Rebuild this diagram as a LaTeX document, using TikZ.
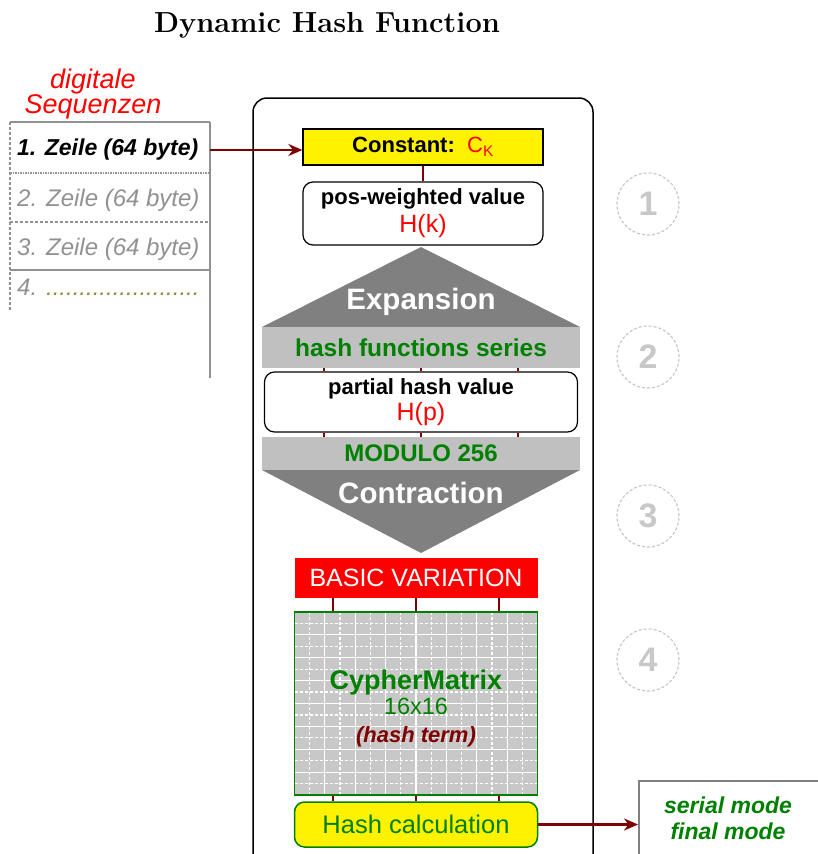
\documentclass[tikz,border=0pt]{standalone}
\usepackage{fontspec}
\setsansfont{Liberation Sans}
\usetikzlibrary{calc,arrows.meta}

\definecolor{darkred}{RGB}{128,0,0}
\definecolor{hashgreen}{RGB}{0,128,0}
\definecolor{midgrey}{RGB}{128,128,128}
\definecolor{bargrey}{RGB}{192,192,192}
\definecolor{cellgrey}{RGB}{200,200,200}
\definecolor{stepgrey}{RGB}{200,200,200}
\definecolor{rowgrey}{RGB}{145,145,145}
\definecolor{dotolive}{RGB}{150,140,60}

\begin{document}
\begin{tikzpicture}[x=1pt,y=-1pt,
    every node/.style={inner sep=0pt},
    sans/.style={execute at begin node={\sffamily\fontsize{#1}{#1}\selectfont}},
    constbox/.style={draw,fill=yellow,line width=1.2pt,minimum width=240,minimum height=36},
    valuebox/.style={draw,fill=white,rounded corners=10,line width=1.2pt,align=center},
    barbox/.style={fill=bargrey,minimum width=318,text=hashgreen},
    varbox/.style={fill=red,minimum width=243,minimum height=40,text=white},
    cellbox/.style={draw=hashgreen,fill=cellgrey,line width=1.5pt,minimum width=243,minimum height=183},
    calcbox/.style={draw=hashgreen,fill=yellow,rounded corners=10,line width=1.5pt,minimum width=243,minimum height=45,text=hashgreen},
    flow/.style={darkred,line width=2.5pt,-{Stealth[length=14pt,width=12pt]}},
    link/.style={darkred,line width=2pt},
    stepmark/.style={circle,draw=stepgrey,densely dashed,line width=1.2pt,minimum size=62,text=stepgrey},
    rowline/.style={rowgrey,line width=1.5pt}]
  \useasboundingbox (0,0) rectangle (817,854);

  % title
  \node[font={\bfseries\fontsize{29}{34}\selectfont}] (title) at (327,25) {Dynamic Hash Function};

  % digital sequences on the left
  \node[font={\sffamily\itshape\fontsize{27}{23}\selectfont},text=red,align=center] (seqhead) at (93,94) {digitale\\Sequenzen};
  \draw[rowline] (10,122) -- (210,122);
  \draw[rowline,densely dotted] (10,173) -- (210,173);
  \draw[rowline,densely dashed] (10,222) -- (210,222);
  \draw[rowline] (10,270) -- (210,270);
  \draw[rowline] (210,122) -- (210,378);
  \draw[rowline,densely dashed] (10,122) -- (10,310);
  \node[sans=23,font=\bfseries\itshape,anchor=west] (row1) at (17,150) {1. Zeile (64 byte)};
  \node[sans=24,font=\itshape,text=rowgrey,anchor=west] (row2) at (17,200) {2. Zeile (64 byte)};
  \node[sans=24,font=\itshape,text=rowgrey,anchor=west] (row3) at (17,249) {3. Zeile (64 byte)};
  \node[sans=24,font=\itshape,text=rowgrey,anchor=west] (row4) at (17,287) {4. \textcolor{dotolive}{.......................}};
  \coordinate (rowedge) at (210,150);

  % frame of the hash function
  \draw[line width=1.5pt,rounded corners=14] (253,870) -- (253,98) -- (593,98) -- (593,870);

  % step 1
  \node[constbox,sans=22] (const) at (423,147) {\bfseries Constant:\ \ \textcolor{red}{\mdseries C\textsubscript{K}}};
  \node[valuebox,minimum width=240,minimum height=63,sans=22] (posval) at (423,213.5)
    {\bfseries pos-weighted value\\[4pt]\textcolor{red}{\fontsize{25}{25}\selectfont H(k)}};
  \draw[link] (const) -- (posval);
  \draw[fill=midgrey,draw=none] (421,247) -- (580,327) -- (262,327) -- cycle;
  \node[sans=29.5,font=\bfseries,text=white] (expand) at (421,302) {Expansion};

  % step 2
  \node[barbox,minimum height=41,sans=24.5,font=\bfseries] (series) at (421,347.5) {hash functions series};
  \node[valuebox,minimum width=313,minimum height=60,sans=22] (partial) at (421,402)
    {\bfseries partial hash value\\[3pt]\textcolor{red}{\mdseries\fontsize{25}{25}\selectfont H(p)}};
  \node[barbox,minimum height=33,sans=24,font=\bfseries] (modulo) at (421,453.5) {MODULO 256};
  \foreach \dx in {-97,0,97} {
    \draw[link] ([xshift=\dx]series.south) -- ([xshift=\dx]partial.north);
    \draw[link] ([xshift=\dx]partial.south) -- ([xshift=\dx]modulo.north);
  }

  % step 3
  \draw[fill=midgrey,draw=none] (262,470) -- (580,470) -- (421,553) -- cycle;
  \node[sans=29.5,font=\bfseries,text=white] (contract) at (421,493) {Contraction};

  % step 4
  \node[varbox,sans=25] (basic) at (416,578) {BASIC VARIATION};
  \node[cellbox,path picture={
      \foreach \i in {1,...,15} {
        \ifodd\i \def\gridstyle{densely dashed}\else\def\gridstyle{solid}\fi
        \draw[white,line width=1.2pt,\gridstyle]
          ($(path picture bounding box.north west)!{\i/16}!(path picture bounding box.north east)$) --
          ($(path picture bounding box.south west)!{\i/16}!(path picture bounding box.south east)$);
        \draw[white,line width=1.2pt,\gridstyle]
          ($(path picture bounding box.north west)!{\i/16}!(path picture bounding box.south west)$) --
          ($(path picture bounding box.north east)!{\i/16}!(path picture bounding box.south east)$);
      }}] (cypher) at (416,703.5) {};
  \node[sans=27,font=\bfseries,text=hashgreen] (cyname) at (416,683) {CypherMatrix};
  \node[sans=23.5,text=hashgreen] (cysize) at (416,706) {16x16};
  \node[sans=22,font=\bfseries\itshape,text=darkred] (cyterm) at (416,737) {(hash term)};
  \node[calcbox,sans=25.5] (calc) at (416,824.5) {Hash calculation};
  \foreach \dx in {-83,0,83} {
    \draw[link] ([xshift=\dx]basic.south) -- ([xshift=\dx]cypher.north);
    \draw[link] ([xshift=\dx]cypher.south) -- ([xshift=\dx]calc.north);
  }

  % output modes
  \node[draw=midgrey,line width=2pt,anchor=north west,minimum width=260,minimum height=120] (outbox) at (638,780) {};
  \node[sans=23,font=\bfseries\itshape,text=hashgreen,align=center] (modes) at (728,818)
    {serial mode\\[3pt]final mode};

  % connectors into and out of the frame
  \draw[flow] (rowedge) -- (rowedge -| const.west);
  \draw[flow] (calc.east) -- (outbox.west |- calc.east);

  % step marks
  \foreach \n/\y in {1/204,2/357,3/516,4/660}
    \node[stepmark,sans=34,font=\bfseries] (mark\n) at (648,\y) {\n};
\end{tikzpicture}
\end{document}
